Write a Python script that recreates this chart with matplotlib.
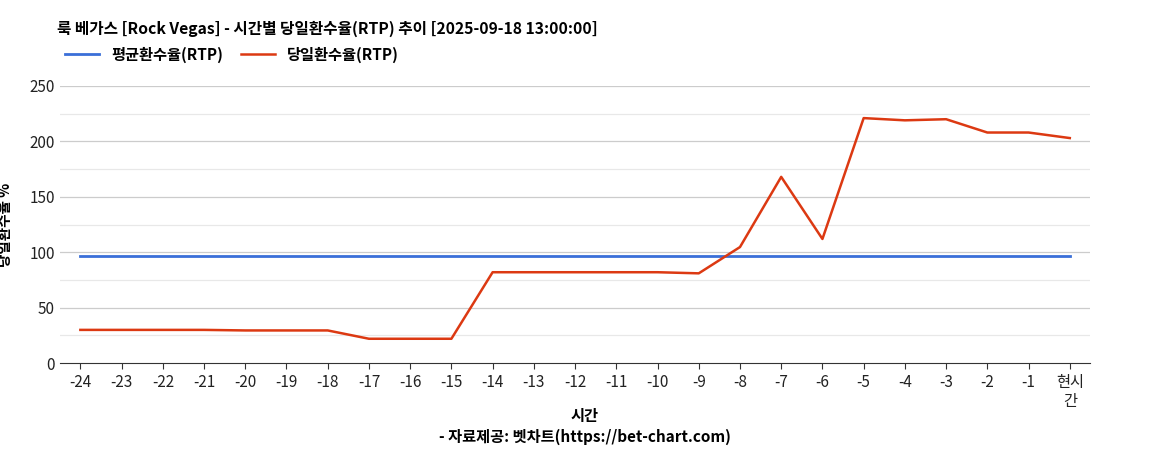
import matplotlib
matplotlib.use('Agg')
import matplotlib.pyplot as plt

plt.rcParams['font.family'] = ['Noto Sans CJK KR', 'DejaVu Sans']

hours = [str(h) for h in range(-24, 0)] + ['현시\n간']
avg_rtp = [96.6] * 25
today_rtp = [30, 30, 30, 30, 29.5, 29.5, 29.5, 22, 22, 22, 82, 82, 82, 82, 82, 81,
             104.7, 168, 112, 221, 219, 220, 208, 208, 203]

fig = plt.figure(figsize=(11.49, 4.5), dpi=100)
ax = fig.add_axes([0.052, 0.193, 0.897, 0.616])
x = range(len(hours))

for y in range(25, 251, 25):
    ax.axhline(y, color='#cccccc' if y % 50 == 0 else '#e8e8e8', lw=0.9, zorder=0)

ax.plot(x, avg_rtp, color='#3a6fd8', lw=2, label='평균환수율(RTP)')
ax.plot(x, today_rtp, color='#dc3912', lw=1.8, label='당일환수율(RTP)')

ax.set_xlim(-0.5, 24.5)
ax.set_ylim(0, 250)
ax.set_yticks(range(0, 251, 50))
ax.set_xticks(list(x))
ax.set_xticklabels(hours)
ax.tick_params(axis='both', length=0, labelsize=11, colors='#222222')
ax.tick_params(axis='x', length=4, color='#333333')
for s in ['top', 'right', 'left']:
    ax.spines[s].set_visible(False)
ax.spines['bottom'].set_color('#333333')

ax.set_ylabel('당일환수율 %', fontsize=10.5, fontweight='bold', labelpad=12)
fig.text(0.509, 0.065, '시간', ha='center', fontsize=11, fontweight='bold')
fig.text(0.509, 0.018, '- 자료제공: 벳차트(https://bet-chart.com)', ha='center',
         fontsize=11, fontweight='bold')
fig.text(0.05, 0.935, '룩 베가스 [Rock Vegas] - 시간별 당일환수율(RTP) 추이 [2025-09-18 13:00:00]',
         fontsize=11.3, fontweight='bold', va='center')
fig.legend(loc='center left', bbox_to_anchor=(0.045, 0.878), ncol=2, frameon=False,
           prop={'size': 11, 'weight': 'bold'}, handlelength=2.2, columnspacing=1.2)

fig.savefig('out.png', dpi=100)
